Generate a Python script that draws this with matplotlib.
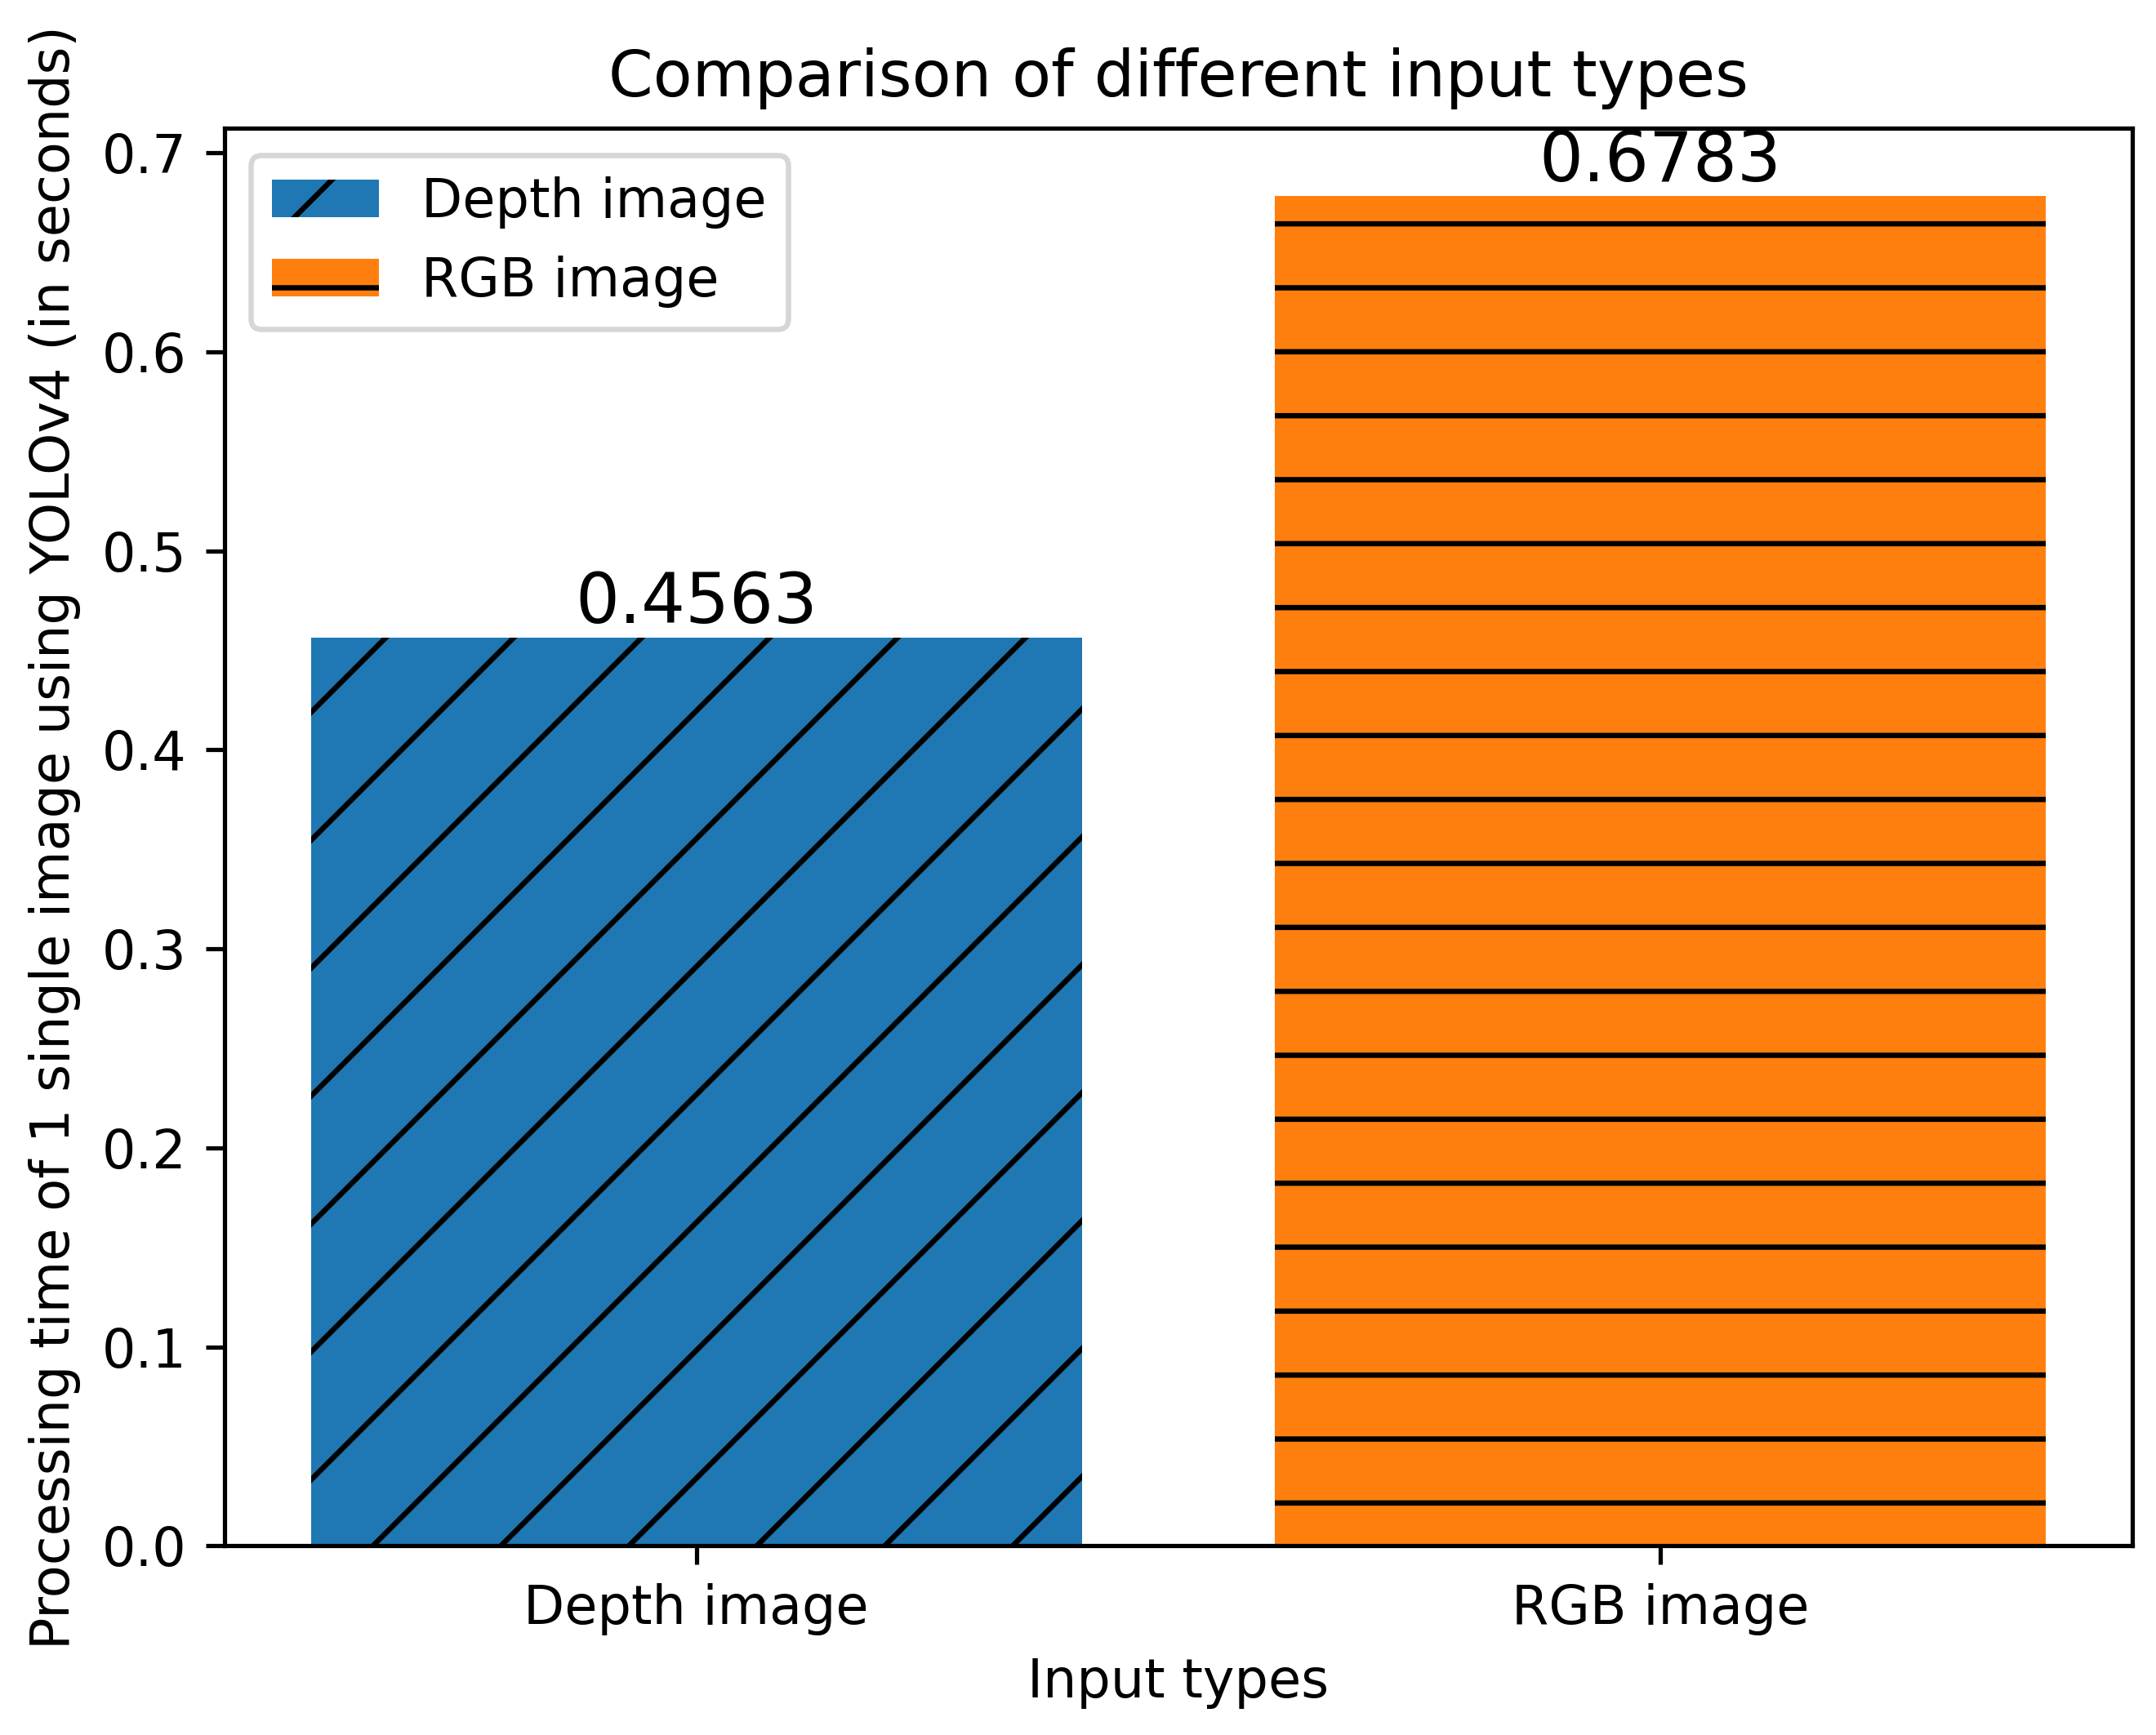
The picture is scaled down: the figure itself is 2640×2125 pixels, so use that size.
import matplotlib
matplotlib.use("Agg")
import matplotlib.pyplot as plt

categories = ["Depth image", "RGB image"]
values = [0.4563, 0.6783]
colors = ["#1f77b4", "#ff7f0e"]
hatches = ["/", "-"]

fig, ax = plt.subplots(figsize=(2640/470, 2125/470), dpi=470)
fig.subplots_adjust(left=0.104, right=0.989, top=0.926, bottom=0.109)
bars = []
for i, (c, v) in enumerate(zip(categories, values)):
    b = ax.bar(i, v, width=0.8, color=colors[i], hatch=hatches[i], label=c)
    bars.append(b)
    ax.bar_label(b, labels=[f"{v:.4f}"], fontsize=13)
ax.set_xticks(range(len(categories)))
ax.set_xticklabels(categories)
ax.set_xlabel("Input types")
ax.set_ylabel("Processing time of 1 single image using YOLOv4 (in seconds)")
ax.set_title("Comparison of different input types")
ax.legend(loc="upper left")
fig.savefig("out.png", dpi=470)
